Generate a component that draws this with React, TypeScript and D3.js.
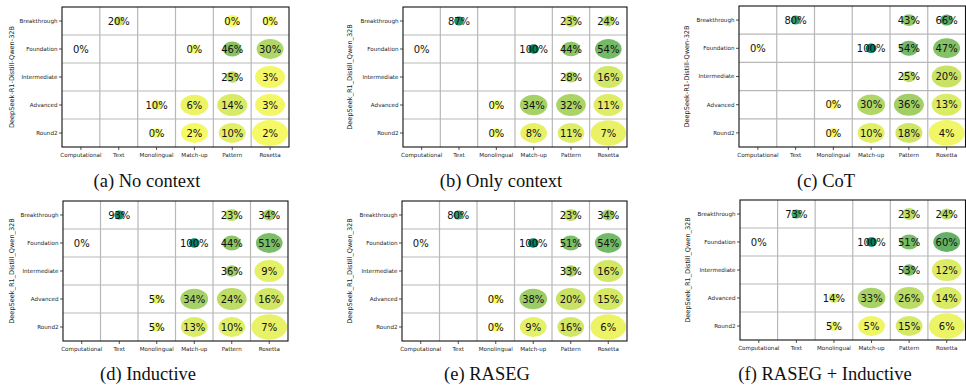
import React from "react";
import * as d3 from "d3";

const categories = ["Computational", "Text", "Monolingual", "Match-up", "Pattern", "Rosetta"];
const levels = ["Breakthrough", "Foundation", "Intermediate", "Advanced", "Round2"];

// number of problems per cell (drives ellipse size)
const problemCounts = [
  [0, 15, 0, 0, 32, 26],
  [1.5, 0, 0, 18, 55, 110],
  [0, 0, 0, 0, 28, 136],
  [0, 0, 18, 118, 136, 136],
  [0, 0, 18, 110, 110, 195],
];

const N = null;
const accNoContext = [
  [N, 20, N, N, 0, 0],
  [0, N, N, 0, 46, 30],
  [N, N, N, N, 25, 3],
  [N, N, 10, 6, 14, 3],
  [N, N, 0, 2, 10, 2],
];
const accOnlyContext = [
  [N, 87, N, N, 23, 24],
  [0, N, N, 100, 44, 54],
  [N, N, N, N, 28, 16],
  [N, N, 0, 34, 32, 11],
  [N, N, 0, 8, 11, 7],
];
const accCoT = [
  [N, 80, N, N, 43, 66],
  [0, N, N, 100, 54, 47],
  [N, N, N, N, 25, 20],
  [N, N, 0, 30, 36, 13],
  [N, N, 0, 10, 18, 4],
];
const accInductive = [
  [N, 93, N, N, 23, 34],
  [0, N, N, 100, 44, 51],
  [N, N, N, N, 36, 9],
  [N, N, 5, 34, 24, 16],
  [N, N, 5, 13, 10, 7],
];
const accRASEG = [
  [N, 80, N, N, 23, 34],
  [0, N, N, 100, 51, 54],
  [N, N, N, N, 33, 16],
  [N, N, 0, 38, 20, 15],
  [N, N, 0, 9, 16, 6],
];
const accRASEGInductive = [
  [N, 73, N, N, 23, 24],
  [0, N, N, 100, 51, 60],
  [N, N, N, N, 53, 12],
  [N, N, 14, 33, 26, 14],
  [N, N, 5, 5, 15, 6],
];

const captions = [
  "(a) No context",
  "(b) Only context",
  "(c) CoT",
  "(d) Inductive",
  "(e) RASEG",
  "(f) RASEG + Inductive",
];
const modelLabels = [
  "DeepSeek-R1-Distill-Qwen-32B",
  "DeepSeek_R1_Distill_Qwen_32B",
  "DeepSeek-R1-Distill-Qwen-32B",
  "DeepSeek_R1_Distill_Qwen_32B",
  "DeepSeek_R1_Distill_Qwen_32B",
  "DeepSeek_R1_Distill_Qwen_32B",
];
const panelData = [accNoContext, accOnlyContext, accCoT, accInductive, accRASEG, accRASEGInductive];

// layout
const layout = [
  { x0: 62, x1: 289, y0: 7, y1: 147, ylx: 12, cx: 147, cy: 187 },
  { x0: 403, x1: 627, y0: 7, y1: 147, ylx: 350, cx: 501, cy: 187 },
  { x0: 739, x1: 965.5, y0: 6, y1: 147, ylx: 687, cx: 826, cy: 187 },
  { x0: 63, x1: 288, y0: 201, y1: 341, ylx: 12, cx: 148, cy: 380 },
  { x0: 402, x1: 627, y0: 201, y1: 341, ylx: 350, cx: 487, cy: 380 },
  { x0: 740, x1: 965.5, y0: 200, y1: 340, ylx: 688, cx: 825, cy: 380 },
];

const color = (v: number) => d3.interpolateRgb("#fbfb66", "#008066")(v / 100);
const SANS = "DejaVu Sans";
const maxCount = d3.max(problemCounts.flat()) as number;

function Panel({ idx }: { idx: number }) {
  const L = layout[idx];
  const data = panelData[idx];
  const x = d3.scaleBand<string>().domain(categories).range([L.x0, L.x1]);
  const y = d3.scaleBand<string>().domain(levels).range([L.y0, L.y1]);
  const wScale = d3.scaleSqrt().domain([0, maxCount]).range([0, x.bandwidth() * 0.95]);
  const cells: any[] = [];
  levels.forEach((lv, i) => {
    categories.forEach((c, j) => {
      const v = data[i][j];
      if (v === null) return;
      cells.push({ lv, c, v, n: problemCounts[i][j] });
    });
  });
  const midY = (L.y0 + L.y1) / 2;
  return (
    <g>
      {categories.slice(1).map((c) => (
        <line key={"gv" + c} x1={x(c)} x2={x(c)} y1={L.y0} y2={L.y1} stroke="#b8b8b8" strokeWidth={1.2} />
      ))}
      {levels.slice(1).map((l) => (
        <line key={"gh" + l} x1={L.x0} x2={L.x1} y1={y(l)} y2={y(l)} stroke="#b8b8b8" strokeWidth={1.2} />
      ))}
      {cells.map((d) => {
        const w = wScale(d.n);
        const h = w < 4 ? w : Math.min(w, 0.65 * w + 2.5);
        return (
          <ellipse
            key={"e" + d.lv + d.c}
            cx={(x(d.c) as number) + x.bandwidth() / 2}
            cy={(y(d.lv) as number) + y.bandwidth() / 2}
            rx={w / 2}
            ry={h / 2}
            fill={color(d.v)}
          />
        );
      })}
      {cells.map((d) => (
        <text
          key={"t" + d.lv + d.c}
          x={(x(d.c) as number) + x.bandwidth() / 2}
          y={(y(d.lv) as number) + y.bandwidth() / 2}
          dy="0.36em"
          textAnchor="middle"
          fontFamily={SANS}
          fontSize={10}
          fill="#111"
        >
          {d.v + "%"}
        </text>
      ))}
      <rect x={L.x0} y={L.y0} width={L.x1 - L.x0} height={L.y1 - L.y0} fill="none" stroke="#111" strokeWidth={1.1} />
      {categories.map((c) => {
        const cx = (x(c) as number) + x.bandwidth() / 2;
        return (
          <g key={"xt" + c}>
            <line x1={cx} x2={cx} y1={L.y1} y2={L.y1 + 3} stroke="#222" strokeWidth={0.8} />
            <text x={cx} y={L.y1 + 10} textAnchor="middle" fontFamily={SANS} fontSize={5.6} fill="#222">
              {c}
            </text>
          </g>
        );
      })}
      {levels.map((l) => {
        const cy = (y(l) as number) + y.bandwidth() / 2;
        return (
          <g key={"yt" + l}>
            <line x1={L.x0 - 3} x2={L.x0} y1={cy} y2={cy} stroke="#222" strokeWidth={0.8} />
            <text x={L.x0 - 4.5} y={cy} dy="0.35em" textAnchor="end" fontFamily={SANS} fontSize={5.6} fill="#222">
              {l}
            </text>
          </g>
        );
      })}
      <text
        transform={`translate(${L.ylx},${midY}) rotate(-90)`}
        textAnchor="middle"
        dy="0.35em"
        fontFamily={SANS}
        fontSize={6.6}
        fill="#222"
      >
        {modelLabels[idx]}
      </text>
      <text x={L.cx} y={L.cy} textAnchor="middle" fontFamily="Liberation Serif" fontSize={18.5} fill="#111">
        {captions[idx]}
      </text>
    </g>
  );
}

export default function App() {
  return (
    <div style={{ position: "absolute", left: 0, top: 0 }}>
      <svg width={966} height={385} style={{ display: "block", background: "#fff" }}>
        {layout.map((_, i) => (
          <Panel key={i} idx={i} />
        ))}
      </svg>
    </div>
  );
}
